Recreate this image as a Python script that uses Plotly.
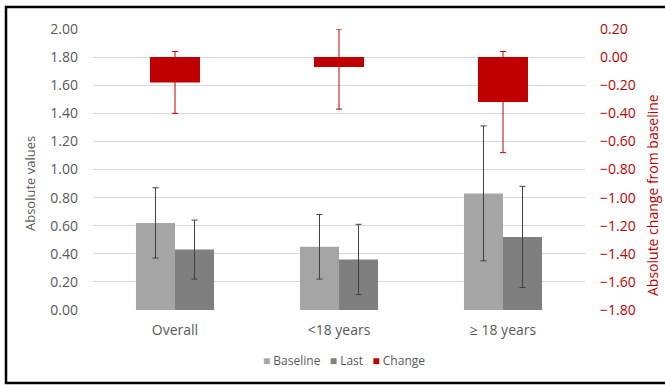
import plotly.graph_objects as go

# Groups and values
categories = ["Overall", "<18 years", "\u2265 18 years"]

baseline = [0.62, 0.45, 0.83]
baseline_err = [0.25, 0.23, 0.48]

last = [0.43, 0.36, 0.52]
last_err = [0.21, 0.25, 0.36]

change = [-0.18, -0.07, -0.32]
change_err_plus = [0.22, 0.27, 0.36]
change_err_minus = [0.22, 0.30, 0.36]

left_ticks = [0.0, 0.2, 0.4, 0.6, 0.8, 1.0, 1.2, 1.4, 1.6, 1.8, 2.0]
right_ticks = [-1.8, -1.6, -1.4, -1.2, -1.0, -0.8, -0.6, -0.4, -0.2, 0.0, 0.2]

GRAY_TXT = "#595959"
RED = "#c00000"
C_BASE = "#a5a5a5"
C_LAST = "#7f7f7f"
FONT = "Open Sans"

# plot-area geometry in pixels (used to place titles / legend / frame)
PL, PR, PT, PB = 93, 585, 29, 310
PW, PH = PR - PL, PB - PT


def px_x(x):
    return (x - PL) / PW


def px_y(y):
    return (PB - y) / PH


fig = go.Figure()

fig.add_trace(go.Bar(
    name="Baseline", x=categories, y=baseline,
    width=0.238, offset=-0.238,
    marker=dict(color=C_BASE, line=dict(width=0)),
    error_y=dict(type="data", array=baseline_err, color="#404040", thickness=1, width=3),
    yaxis="y",
))
fig.add_trace(go.Bar(
    name="Last", x=categories, y=last,
    width=0.238, offset=0.0,
    marker=dict(color=C_LAST, line=dict(width=0)),
    error_y=dict(type="data", array=last_err, color="#404040", thickness=1, width=3),
    yaxis="y",
))
fig.add_trace(go.Bar(
    name="Change", x=categories, y=change,
    width=0.305, offset=-0.1525,
    marker=dict(color=RED, line=dict(width=0)),
    error_y=dict(type="data", symmetric=False, array=change_err_plus,
                 arrayminus=change_err_minus, color=RED, thickness=1, width=3),
    yaxis="y2",
))

fig.update_layout(
    width=665, height=385,
    margin=dict(l=PL, r=665 - PR, t=PT, b=385 - PB),
    paper_bgcolor="white", plot_bgcolor="white",
    barmode="overlay",
    font=dict(family=FONT, size=14, color=GRAY_TXT),
    showlegend=False,
    xaxis=dict(
        range=[-0.5, 2.5], showgrid=False, zeroline=False,
        showline=False, ticks="", ticklabelstandoff=10,
        tickfont=dict(family=FONT, size=14, color=GRAY_TXT),
    ),
    yaxis=dict(
        range=[0, 2.0], tickvals=left_ticks, tickformat=".2f",
        showgrid=True, gridcolor="#d9d9d9", gridwidth=1,
        zeroline=False, showline=False, ticks="",
        ticklabelstandoff=14,
        tickfont=dict(family=FONT, size=14, color=GRAY_TXT),
    ),
    yaxis2=dict(
        range=[-1.8, 0.2], tickvals=right_ticks, tickformat=".2f",
        overlaying="y", side="right", showgrid=False, zeroline=False,
        showline=False, ticks="", ticklabelstandoff=14,
        tickfont=dict(family=FONT, size=14, color=RED),
    ),
)

# Axis titles
fig.add_annotation(
    text="Absolute values", xref="paper", yref="paper",
    x=px_x(30), y=px_y(184), xanchor="center", yanchor="middle",
    textangle=-90, showarrow=False,
    font=dict(family=FONT, size=13, color=GRAY_TXT),
)
fig.add_annotation(
    text="Absolute change from baseline", xref="paper", yref="paper",
    x=px_x(652), y=px_y(195), xanchor="center", yanchor="middle",
    textangle=-90, showarrow=False,
    font=dict(family=FONT, size=14, color=RED),
)

# Compact legend row beneath the categories
legend_items = [("Baseline", C_BASE), ("Last", C_LAST), ("Change", RED)]
legend_text = "   ".join(
    f"<span style='color:{c}'>\u25a0</span> {name}" for name, c in legend_items
)
fig.add_annotation(
    text=legend_text, xref="paper", yref="paper",
    x=px_x(344), y=px_y(360), xanchor="center", yanchor="middle",
    showarrow=False, font=dict(family=FONT, size=12, color=GRAY_TXT),
)

# Outer frame around the chart
fig.add_shape(
    type="rect", xref="paper", yref="paper",
    x0=px_x(6), x1=px_x(668), y0=px_y(383), y1=px_y(7),
    line=dict(color="black", width=2.5), fillcolor="rgba(0,0,0,0)",
    layer="above",
)

fig.write_html("out.html")
